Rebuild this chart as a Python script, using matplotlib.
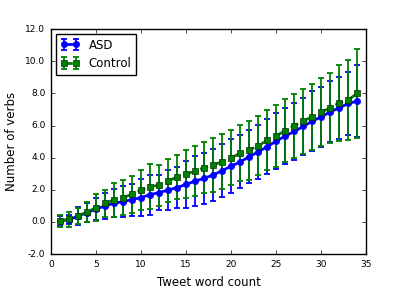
import matplotlib
matplotlib.use('Agg')
from matplotlib import pyplot as plt

# nombre de mots par tweet
word_count = list(range(1, 35))

# moyennes et ecarts-types
asd_mean = [0.06, 0.14, 0.35, 0.58, 0.80, 0.99, 1.16, 1.26, 1.39, 1.51,
            1.70, 1.82, 1.98, 2.14, 2.33, 2.54, 2.71, 2.92, 3.19, 3.47,
            3.73, 4.06, 4.35, 4.68, 5.03, 5.34, 5.63, 5.94, 6.27, 6.54,
            6.85, 7.10, 7.37, 7.52]
asd_std = [0.30, 0.30, 0.55, 0.60, 0.68, 0.78, 0.88, 0.95, 1.00, 1.15,
           1.25, 1.10, 1.22, 1.30, 1.45, 1.55, 1.58, 1.62, 1.66, 1.68,
           1.65, 1.66, 1.66, 1.70, 1.74, 1.75, 1.77, 1.80, 1.85, 1.86,
           1.90, 1.94, 1.97, 2.25]

control_mean = [0.08, 0.16, 0.38, 0.62, 0.89, 1.16, 1.37, 1.51, 1.72, 1.98,
                2.18, 2.29, 2.56, 2.78, 2.98, 3.15, 3.37, 3.54, 3.75, 3.99,
                4.27, 4.47, 4.74, 5.07, 5.36, 5.67, 5.98, 6.27, 6.54, 6.83,
                7.10, 7.41, 7.60, 8.00]
control_std = [0.38, 0.45, 0.48, 0.65, 0.82, 0.85, 1.05, 1.10, 1.15, 1.25,
               1.40, 1.28, 1.35, 1.38, 1.50, 1.55, 1.60, 1.66, 1.72, 1.70,
               1.75, 1.84, 1.83, 1.87, 1.93, 1.95, 1.98, 2.03, 2.05, 2.13,
               2.17, 2.35, 2.48, 2.75]

plt.style.use('classic')

fig = plt.figure(figsize=(4.07, 2.91), dpi=100)
ax = fig.add_axes([0.125, 0.127, 0.775, 0.773])

# ASD : ligne pleine bleue, ronds
ax.errorbar(word_count, asd_mean, yerr=asd_std, color='b', marker='o',
            linestyle='-', linewidth=2, markersize=4.5, mec='b',
            elinewidth=1.3, capsize=2, capthick=1.3, label='ASD')
# Control : tirets verts, carres
ax.errorbar(word_count, control_mean, yerr=control_std, color='g', marker='s',
            linestyle='--', linewidth=2, markersize=4.5, mec='#003000',
            elinewidth=1.3, capsize=2, capthick=1.3, label='Control')

ax.set_xlim(0, 35)
ax.set_ylim(-2, 12)
ax.set_yticks([-2, 0, 2, 4, 6, 8, 10, 12])
ax.set_yticklabels(['%.1f' % v for v in [-2, 0, 2, 4, 6, 8, 10, 12]])
ax.tick_params(labelsize=6.5, length=3)
ax.set_xlabel('Tweet word count', fontsize=8.5)
ax.set_ylabel('Number of verbs', fontsize=8.5)
ax.legend(loc='upper left', fontsize=8.5, numpoints=2, handlelength=1.6,
          borderaxespad=0.4)

fig.savefig('out.png', dpi=100)
